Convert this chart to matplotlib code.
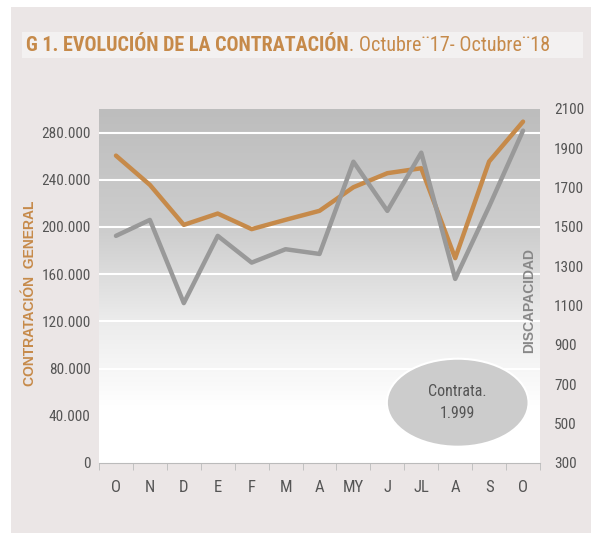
import numpy as np
import matplotlib.pyplot as plt
from matplotlib.patches import Ellipse, Rectangle
from matplotlib import font_manager

# data
meses = ["O", "N", "D", "E", "F", "M", "A", "MY", "J", "JL", "A", "S", "O"]
contratacion_general = [260500, 235700, 201800, 211400, 198200, 206100, 213700,
                        233700, 245600, 249800, 173600, 255500, 289300]
discapacidad = [1455, 1536, 1113, 1455, 1319, 1387, 1363,
                1832, 1582, 1878, 1236, 1604, 1990]
left_ticks = [0, 40000, 80000, 120000, 160000, 200000, 240000, 280000]
right_ticks = [300, 500, 700, 900, 1100, 1300, 1500, 1700, 1900, 2100]

naranja = "#C68A4A"
gris = "#999999"
fondo = "#EBE6E6"

fonts = font_manager.fontManager.ttflist
names = {f.name for f in fonts}
narrow = "DejaVu Sans"
for cand in ["Liberation Sans Narrow", "Roboto Condensed", "Open Sans Condensed"]:
    if cand in names:
        narrow = cand
        break
has_cond = any(f.name == "DejaVu Sans" and f.stretch == "condensed" for f in fonts)
plt.rcParams["font.family"] = [narrow, "DejaVu Sans"]
if narrow == "DejaVu Sans" and has_cond:
    plt.rcParams["font.stretch"] = "condensed"
wide = ["Liberation Sans", "DejaVu Sans"]

W, H = 591, 533
fig = plt.figure(figsize=(W / 100, H / 100), dpi=100)
fig.patch.set_facecolor(fondo)

# white margin on the left and top, title band
fig.patches.append(Rectangle((0, 0), 11 / W, 1, transform=fig.transFigure,
                             facecolor="white", edgecolor="none", zorder=-5))
fig.patches.append(Rectangle((0, 1 - 7 / H), 1, 7 / H, transform=fig.transFigure,
                             facecolor="white", edgecolor="none", zorder=-5))
fig.patches.append(Rectangle((22 / W, 1 - 58 / H), (583 - 22) / W, 26 / H, transform=fig.transFigure,
                             facecolor="#F3F1F1", edgecolor="none", zorder=-5))
t1 = fig.text(26 / W, 1 - 45.5 / H, "G 1. EVOLUCIÓN DE LA CONTRATACIÓN", color=naranja,
              fontsize=14.5, fontweight="bold", va="center", ha="left")

left, right, top, bottom = 99, 540, 109, 463
ax = fig.add_axes([left / W, 1 - bottom / H, (right - left) / W, (bottom - top) / H])
ax.set_facecolor("white")
x = np.arange(len(meses))
ax.set_xlim(-0.5, len(meses) - 0.5)
ax.set_ylim(0, 300000)

# gradient background
grad = np.linspace(0, 1, 256).reshape(-1, 1)
cmap = plt.matplotlib.colors.LinearSegmentedColormap.from_list(
    "g", [(0, "#BDBDBD"), (0.35, "#CECECE"), (0.6, "#ECECEC"), (0.85, "#FFFFFF"), (1, "#FFFFFF")])
ax.imshow(grad, aspect="auto", cmap=cmap, extent=(-0.5, len(meses) - 0.5, 0, 300000),
          origin="upper", zorder=0)

for t in left_ticks[1:]:
    ax.axhline(t, color="white", lw=1.5, zorder=1)

ax.plot(x, contratacion_general, color=naranja, lw=3.2, zorder=4, solid_capstyle="round")
ax.set_yticks(left_ticks)
ax.set_yticklabels([f"{v:,}".replace(",", ".") for v in left_ticks], fontsize=11, color="#555555")
ax.set_xticks(x)
ax.set_xticklabels(meses, fontsize=12, color="#555555")
ax.set_xticks(np.arange(-0.5, len(meses), 1), minor=True)
ax.tick_params(axis="x", which="major", length=0, pad=12)
ax.tick_params(axis="x", which="minor", length=5, color="#BBBBBB", direction="out")
ax.tick_params(axis="y", length=0, pad=6)
for s in ["top", "right", "left"]:
    ax.spines[s].set_visible(False)
ax.spines["bottom"].set_color("#BBBBBB")
ax.set_ylabel("CONTRATACIÓN  GENERAL", color=naranja, fontsize=10, fontweight="bold",
              family=wide)
ax.yaxis.set_label_coords(-0.14, 0.48)

ax2 = ax.twinx()
ax2.set_ylim(300, 2100)
ax2.plot(x, discapacidad, color=gris, lw=3.2, zorder=3, solid_capstyle="round")
ax2.set_yticks(right_ticks)
ax2.set_yticklabels([str(v) for v in right_ticks], fontsize=11, color="#555555")
ax2.tick_params(axis="y", length=0, pad=10)
for s in ["top", "right", "left", "bottom"]:
    ax2.spines[s].set_visible(False)
ax2.text(0.975, 0.46, "DISCAPACIDAD", rotation=90, transform=ax.transAxes, ha="center",
         va="center", color="#888888", fontsize=10, fontweight="bold", family=wide)

ell = Ellipse((457.7 / W, 1 - 402.7 / H), 141.7 / W, 88 / H, transform=fig.transFigure,
              facecolor="#CCCCCC", edgecolor="white", lw=1.5, zorder=5)
fig.patches.append(ell)
fig.text(457.7 / W, 1 - 392 / H, "Contrata.", ha="center", va="center", fontsize=11.5,
         color="#555555", zorder=6)
fig.text(457.7 / W, 1 - 413 / H, "1.999", ha="center", va="center", fontsize=11.5,
         color="#555555", zorder=6)

# second part of the title right after the bold part
fig.canvas.draw()
bb = t1.get_window_extent()
fig.text(bb.x1 / W, 1 - 45.5 / H, ". Octubre¨17- Octubre¨18", color=naranja,
         fontsize=14.5, va="center", ha="left")

fig.savefig("out.png", dpi=100, facecolor=fig.get_facecolor())
